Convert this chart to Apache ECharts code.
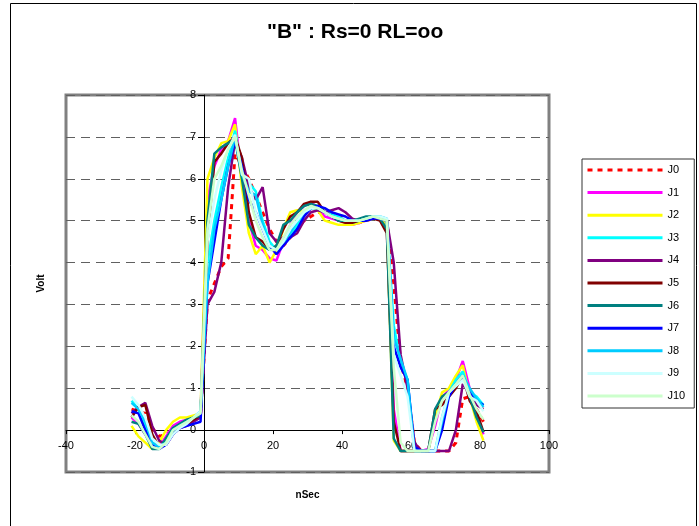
<!DOCTYPE html>
<html>
<head>
<meta charset="utf-8">
<script src="https://cdn.jsdelivr.net/npm/echarts@6/dist/echarts.min.js"></script>
<style>
html,body{margin:0;padding:0;background:#fff;}
#chart{width:699px;height:526px;}
</style>
</head>
<body>
<div id="chart"></div>
<script>
// time axis (nSec)
const times = [-21,-19,-17,-15,-13,-11,-9,-7,-5,-3,-1,1,3,5,7,9,11,13,15,17,19,21,23,25,27,29,31,33,35,37,39,41,43,45,47,49,51,53,55,57,59,61,63,65,67,69,71,73,75,77,79,81];

const seriesNames = ['J0','J1','J2','J3','J4','J5','J6','J7','J8','J9','J10'];

const J0 = [0.5,0.45,0.4,0.05,-0.15,-0.1,0.0,0.1,0.15,0.25,0.35,
  3.1,3.5,3.9,4.1,6.6,6.3,6.0,5.6,5.2,4.8,4.5,4.4,4.6,4.8,5.0,5.1,5.2,5.2,5.15,5.1,5.05,5.0,4.95,5.0,5.05,5.05,5.0,
  3.5,1.6,1.0,-0.3,-0.5,-0.5,-0.5,-0.5,-0.5,-0.3,0.75,0.8,0.5,0.2];
const J1 = [0.3,0.15,-0.1,-0.35,-0.4,-0.15,0.1,0.2,0.25,0.3,0.35,
  5.5,6.3,6.7,6.9,7.45,6.0,5.0,4.4,4.3,4.1,4.05,4.5,4.9,5.2,5.35,5.45,5.3,5.1,5.05,5.0,4.95,4.9,4.95,5.0,5.05,5.05,4.9,
  0.5,-0.5,-0.5,-0.5,-0.5,-0.45,0.1,0.8,0.95,1.2,1.65,1.0,0.4,-0.1];
const J2 = [0.1,-0.15,-0.3,-0.45,-0.3,0.0,0.2,0.3,0.3,0.35,0.4,
  6.0,6.5,6.85,6.9,7.3,5.8,4.7,4.2,4.4,4.0,4.3,4.8,5.2,5.25,5.2,5.35,5.25,5.0,4.95,4.9,4.9,4.9,4.95,5.0,5.05,5.05,4.9,
  -0.25,-0.5,-0.5,-0.5,-0.5,-0.5,0.3,0.9,1.0,1.3,1.55,0.8,0.2,-0.25];
const J3 = [0.7,0.5,0.1,-0.3,-0.4,-0.3,0.0,0.1,0.2,0.3,0.4,
  4.0,5.0,5.8,6.5,7.15,6.2,5.9,5.7,5.0,4.5,4.3,4.5,4.6,4.9,5.2,5.3,5.3,5.2,5.15,5.1,5.0,4.95,5.0,5.0,5.05,5.05,5.0,
  2.5,1.6,1.2,-0.5,-0.5,-0.5,-0.5,0.3,0.9,1.2,1.4,0.9,0.8,0.6];
const J4 = [0.4,0.55,0.65,0.1,-0.25,-0.35,-0.1,0.05,0.1,0.2,0.3,
  3.0,3.3,4.0,5.8,6.9,6.5,5.8,5.5,5.8,4.7,4.5,4.6,4.6,4.7,5.0,5.2,5.25,5.2,5.25,5.3,5.2,5.05,5.0,5.0,5.05,5.05,5.0,
  4.0,1.8,1.0,-0.3,-0.5,-0.5,-0.5,-0.5,-0.5,0.0,1.1,0.9,0.6,0.5];
const J5 = [0.3,0.55,0.6,-0.1,-0.4,-0.3,0.0,0.1,0.15,0.25,0.35,
  4.5,6.4,6.6,6.85,7.0,6.5,5.2,4.6,4.5,4.3,4.4,4.8,5.1,5.2,5.4,5.45,5.45,5.2,5.1,5.0,4.95,4.95,5.0,5.05,5.05,5.0,4.7,
  0.2,-0.5,-0.5,-0.5,-0.5,-0.5,0.5,0.6,0.8,1.0,1.3,0.7,0.45,-0.05];
const J6 = [0.2,0.15,-0.1,-0.45,-0.45,-0.2,0.05,0.15,0.25,0.3,0.35,
  5.0,6.6,6.75,6.85,6.95,6.0,4.9,4.6,4.4,4.3,4.4,4.9,5.0,5.2,5.35,5.4,5.35,5.2,5.1,5.0,5.0,5.0,5.05,5.1,5.1,5.05,4.8,
  -0.2,-0.5,-0.5,-0.5,-0.5,-0.5,0.5,0.8,0.9,1.1,1.3,0.8,0.3,-0.05];
const J7 = [0.45,0.4,0.0,-0.35,-0.45,-0.35,-0.1,0.05,0.1,0.15,0.2,
  3.5,4.5,5.5,6.3,6.9,6.3,5.5,5.2,4.8,4.4,4.2,4.4,4.6,4.8,5.1,5.3,5.35,5.3,5.2,5.15,5.1,5.0,5.0,5.0,5.05,5.05,5.0,
  2.0,1.5,1.2,-0.4,-0.5,-0.5,-0.5,0.0,0.8,1.1,1.3,0.9,0.7,0.6];
const J8 = [0.65,0.5,0.2,-0.3,-0.4,-0.3,0.0,0.1,0.2,0.3,0.45,
  3.5,4.8,5.5,6.3,7.0,6.1,5.7,5.6,4.9,4.4,4.3,4.5,4.7,5.0,5.2,5.3,5.3,5.2,5.1,5.05,5.0,5.0,5.0,5.05,5.1,5.1,5.05,
  2.2,1.7,1.2,-0.5,-0.5,-0.5,-0.5,0.2,0.9,1.1,1.3,1.0,0.75,0.55];
const J9 = [0.8,0.6,0.3,-0.2,-0.35,-0.35,-0.1,0.05,0.15,0.3,0.45,
  4.5,5.5,6.2,6.7,7.05,6.1,6.0,5.2,4.8,4.4,4.3,4.5,4.8,5.0,5.2,5.3,5.3,5.2,5.1,5.05,5.0,5.0,5.0,5.05,5.1,5.1,5.05,
  1.8,1.3,0.8,-0.5,-0.5,-0.5,-0.5,0.3,0.9,1.05,1.2,0.8,0.7,0.45];
const J10 = [0.35,0.2,-0.1,-0.4,-0.45,-0.3,0.0,0.1,0.2,0.3,0.4,
  4.8,6.0,6.3,6.7,7.0,6.2,5.6,5.0,4.6,4.3,4.3,4.6,4.9,5.1,5.25,5.35,5.3,5.2,5.1,5.05,5.0,5.0,5.0,5.05,5.1,5.05,5.0,
  1.5,-0.3,-0.5,-0.5,-0.5,-0.5,0.2,0.7,0.9,1.1,1.3,0.85,0.5,0.25];

const allValues = [J0,J1,J2,J3,J4,J5,J6,J7,J8,J9,J10];
const colors = ['#FF0000','#FF00FF','#FFFF00','#00FFFF','#800080','#800000','#008080','#0000FF','#00CCFF','#CCFFFF','#CCFFCC'];

const xTicks = {min:-40, max:100, interval:20};
const yTicks = {min:-1, max:8, interval:1};

const FONT = '"Liberation Sans", Arial, sans-serif';

// grid geometry (layout only)
const G = {left: 66, top: 95, width: 483, height: 377};
// place axes where the other axis crosses zero
const xAxisOffset = -G.height * (0 - yTicks.min) / (yTicks.max - yTicks.min);
const yAxisOffset = -G.width * (0 - xTicks.min) / (xTicks.max - xTicks.min);

const series = seriesNames.map((name, i) => ({
  name: name,
  type: 'line',
  data: times.map((t, k) => [t, allValues[i][k]]),
  symbol: 'none',
  showSymbol: false,
  smooth: false,
  lineStyle: i === 0
    ? {color: colors[i], width: 3, type: [5, 5]}
    : {color: colors[i], width: 2.5, type: 'solid'},
  itemStyle: {color: colors[i]},
  emphasis: {disabled: true},
  z: 2 + i
}));

const chart = echarts.init(document.getElementById('chart'), null, {renderer: 'canvas'});
chart.setOption({
  animation: false,
  backgroundColor: '#ffffff',
  textStyle: {fontFamily: FONT},
  title: {
    text: '"B" : Rs=0 RL=oo',
    left: 267,
    top: 22,
    padding: 0,
    textStyle: {fontFamily: FONT, fontSize: 21, fontWeight: 'bold', color: '#000'}
  },
  graphic: [{
    type: 'rect',
    shape: {x: 10.5, y: 3.5, width: 686, height: 540},
    style: {fill: 'none', stroke: '#000', lineWidth: 1},
    silent: true,
    z: 100
  }],
  grid: {
    left: G.left, top: G.top, width: G.width, height: G.height,
    show: true, borderColor: '#808080', borderWidth: 3, backgroundColor: '#fff',
    containLabel: false,
    outerBoundsMode: 'none'
  },
  legend: {
    orient: 'vertical',
    left: 582, top: 159,
    padding: [4, 9, 5, 4],
    itemWidth: 75, itemHeight: 14, itemGap: 8.6,
    backgroundColor: '#fff',
    borderColor: '#333', borderWidth: 1,
    borderRadius: 0,
    selectedMode: false,
    itemStyle: {color: 'rgba(0,0,0,0)', borderWidth: 0, opacity: 0},
    lineStyle: {width: 3},
    textStyle: {fontFamily: FONT, fontSize: 11, color: '#000', lineHeight: 14},
    data: seriesNames
  },
  xAxis: {
    type: 'value',
    min: xTicks.min, max: xTicks.max, interval: xTicks.interval,
    offset: xAxisOffset,
    name: 'nSec', nameLocation: 'middle', nameGap: 60,
    nameTextStyle: {fontFamily: FONT, fontSize: 10, fontWeight: 'bold', color: '#000'},
    axisLine: {show: true, onZero: false, lineStyle: {color: '#000', width: 1}},
    axisTick: {show: true, inside: false, length: 4, lineStyle: {color: '#000'}},
    axisLabel: {fontFamily: FONT, fontSize: 11, color: '#000', margin: 10},
    splitLine: {show: false}
  },
  yAxis: {
    type: 'value',
    min: yTicks.min, max: yTicks.max, interval: yTicks.interval,
    offset: yAxisOffset,
    name: 'Volt', nameLocation: 'middle', nameGap: 158,
    nameTextStyle: {fontFamily: FONT, fontSize: 10, fontWeight: 'bold', color: '#000'},
    axisLine: {show: true, onZero: false, lineStyle: {color: '#000', width: 1}},
    axisTick: {show: true, inside: false, length: 6, lineStyle: {color: '#000'}},
    axisLabel: {fontFamily: FONT, fontSize: 11, color: '#000', margin: 8},
    splitLine: {show: true, lineStyle: {color: '#606060', width: 1, type: [9, 6]}}
  },
  series: series
});
</script>
</body>
</html>
